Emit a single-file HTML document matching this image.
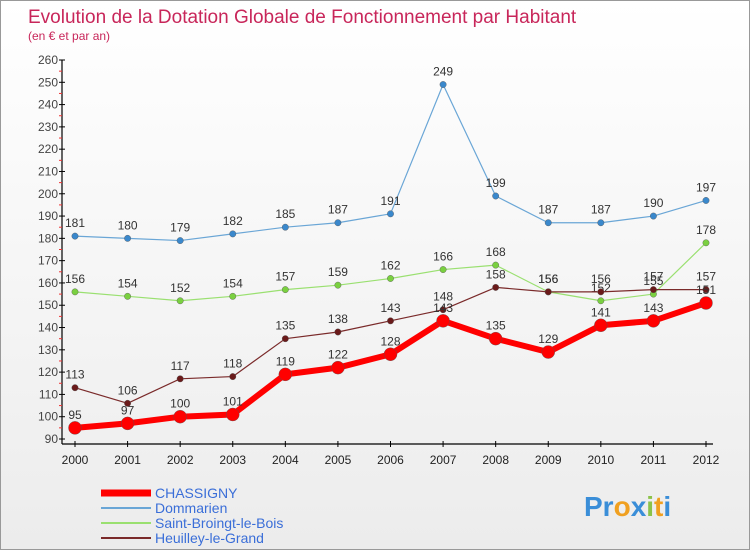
<!DOCTYPE html>
<html><head><meta charset="utf-8"><style>
body{margin:0;width:750px;height:550px;overflow:hidden;font-family:"Liberation Sans",sans-serif}
#wrap{position:relative;width:748px;height:548px;border:1px solid #999;background:linear-gradient(#fff,#ececec)}
</style></head><body>
<div id="wrap">
<svg id="chart" width="748" height="548" style="font-family:'Liberation Sans',sans-serif">
<text x="27" y="22" font-size="19" fill="#c8265a">Evolution de la Dotation Globale de Fonctionnement par Habitant</text>
<text x="27" y="39" font-size="12" fill="#c8265a">(en € et par an)</text>
<g id="axes"></g><g id="series"></g><g id="legend"></g>
<text x="583" y="515" font-size="28" font-weight="bold"><tspan fill="#3a8ed8">Pr</tspan><tspan fill="#f0a020">o</tspan><tspan fill="#3a8ed8">x</tspan><tspan fill="#8bc34a">i</tspan><tspan fill="#f0a020">t</tspan><tspan fill="#3a8ed8">i</tspan></text>
</svg></div>
<script>
const years=[2000,2001,2002,2003,2004,2005,2006,2007,2008,2009,2010,2011,2012];
const yTicks=[90,100,110,120,130,140,150,160,170,180,190,200,210,220,230,240,250,260];
const chassigny=[95,97,100,101,119,122,128,143,135,129,141,143,151];
const dommarien=[181,180,179,182,185,187,191,249,199,187,187,190,197];
const saintBroingt=[156,154,152,154,157,159,162,166,168,156,152,155,178];
const heuilley=[113,106,117,118,135,138,143,148,158,156,156,157,157];
const NS="http://www.w3.org/2000/svg";
function X(i){return 74+i*(705-74)/12;}
function Y(v){return 438-(v-90)*(438-59)/170;}
function mk(t,a,p){const e=document.createElementNS(NS,t);for(const k in a)e.setAttribute(k,a[k]);p.appendChild(e);return e;}
const ax=document.getElementById('axes');
let e=mk('line',{x1:61,y1:59,x2:61,y2:443,stroke:'#000','stroke-width':1.2},ax);


e=mk('line',{x1:61,y1:443,x2:712,y2:443,stroke:'#000','stroke-width':1.2},ax);


yTicks.forEach(v=>{
 mk('line',{x1:58,y1:Y(v),x2:64,y2:Y(v),stroke:'#000'},ax);
 if(v<260) mk('line',{x1:58,y1:Y(v+5),x2:61,y2:Y(v+5),stroke:'#e33'},ax);
 const t=mk('text',{x:57,y:Y(v)+4,'font-size':12,'text-anchor':'end',fill:'#444'},ax);t.textContent=v;
 
 
});
years.forEach((y,i)=>{
 mk('line',{x1:X(i),y1:440,x2:X(i),y2:446,stroke:'#000'},ax);
 const t=mk('text',{x:X(i),y:463,'font-size':12,'text-anchor':'middle',fill:'#222'},ax);t.textContent=y;
 
 
});
const sg=document.getElementById('series');
function draw(data,color,dot,w,r,name){
 const g=mk('g',{},sg);
 
 
 mk('polyline',{points:data.map((v,i)=>X(i)+','+Y(v)).join(' '),fill:'none',stroke:color,'stroke-width':w,'stroke-linejoin':'round'},g);
 data.forEach((v,i)=>{
  const c=mk('circle',{cx:X(i),cy:Y(v),r:r,fill:dot,stroke:'#555','stroke-width':0.4},g);
  
  
  const t=mk('text',{x:X(i),y:Y(v)-9,'font-size':12,'text-anchor':'middle',fill:'#333'},g);t.textContent=v;
  
  
 });
}
draw(dommarien,'#6aa6d6','#3a88cc',1.2,3.2,'series-dommarien');
draw(saintBroingt,'#9ae070','#7ad040',1.2,3.2,'series-saint-broingt');
draw(heuilley,'#7a2a2a','#6a1a1a',1.2,3.2,'series-heuilley');
draw(chassigny,'#ff0000','#ff0000',6,6.5,'series-chassigny');
const lg=document.getElementById('legend');
const items=[['CHASSIGNY','#ff0000',7],['Dommarien','#6aa6d6',2],['Saint-Broingt-le-Bois','#9ae070',2],['Heuilley-le-Grand','#7a2a2a',2]];
items.forEach((it,i)=>{
 const y=492+i*15;
 const g=mk('g',{},lg);
 
 
 mk('line',{x1:100,y1:y,x2:150,y2:y,stroke:it[1],'stroke-width':it[2]},g);
 const t=mk('text',{x:154,y:y+5,'font-size':14,fill:'#3a6ed8'},g);t.textContent=it[0];
});
</script></body></html>
